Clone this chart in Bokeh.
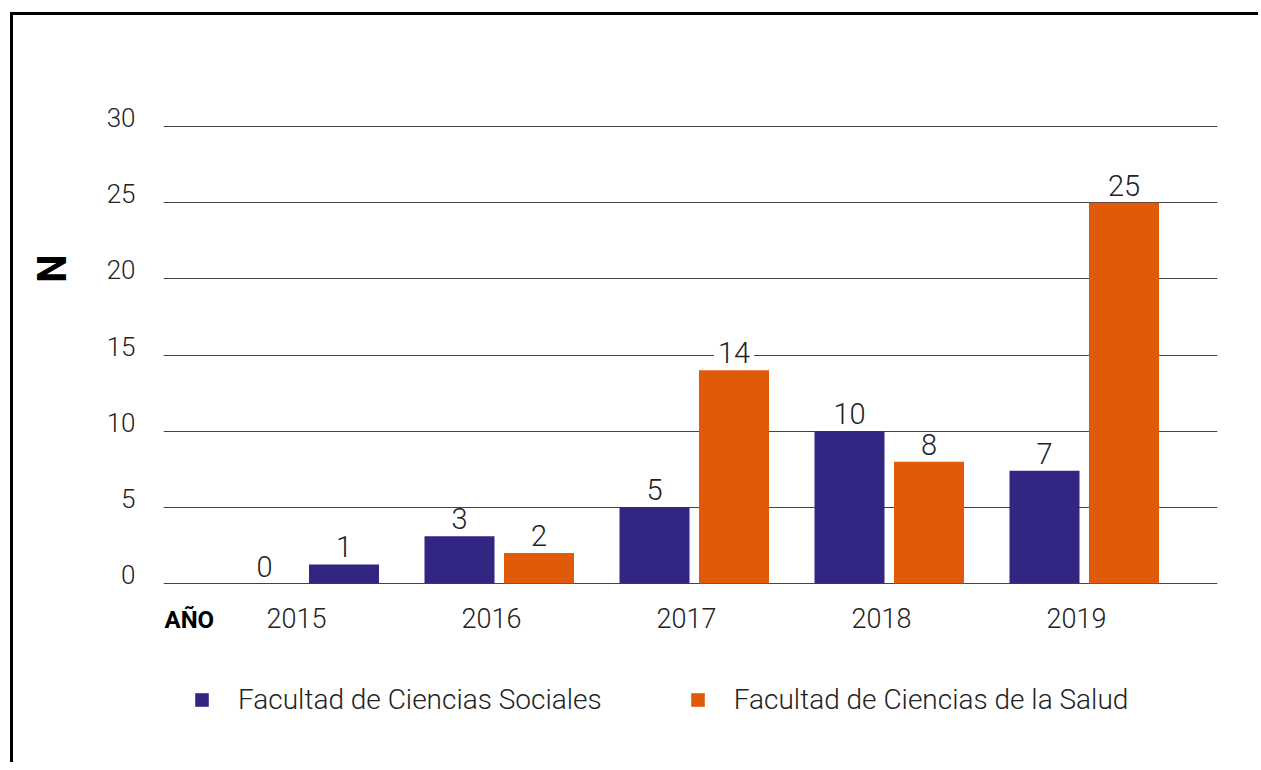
import math
from bokeh.plotting import figure
from bokeh.models import (ColumnDataSource, Range1d, LinearAxis, FixedTicker, LabelSet,
                          Label, Legend, LegendItem)
from bokeh.core.properties import value
from bokeh.embed import file_html
from bokeh.resources import INLINE

# ---------------- data ----------------
years = ["2015", "2016", "2017", "2018", "2019"]
sociales = [0, 3.1, 5, 10, 7.4]      # bar heights as drawn
salud = [1.25, 2, 14, 8, 25]
y_ticks = [0, 5, 10, 15, 20, 25, 30]
series_names = ["Facultad de Ciencias Sociales", "Facultad de Ciencias de la Salud"]
y_title = "N"
x_title = "AÑO"

# ---------------- style ----------------
PURPLE = "#312783"
ORANGE = "#E05A0A"
TEXT = "#222222"
GRID = "#444444"
FONT = "Roboto Light, Roboto"
BOLD = "Roboto"
# in the reference the 2015 bar of the second series is drawn purple
salud_colors = [PURPLE, ORANGE, ORANGE, ORANGE, ORANGE]

W, H = 1248, 750
FL, FR = 150, 1204          # frame left / right (canvas px)
FT, FB = 0, H               # frame top / bottom (canvas px)
Y0, Y30 = 568, 111          # canvas px of values 0 and 30
S = (Y0 - Y30) / 30.0       # px per unit
STEP = 195.0                # px per year
TICK0 = 283                 # canvas px of first year centre

x_start = -(TICK0 - FL) / STEP
x_end = x_start + (FR - FL) / STEP
y_start = -(FB - Y0) / S
y_end = 30 + (Y30 - FT) / S

OFF1 = -32 / STEP
OFF2 = 47.5 / STEP
BW = 70 / STEP

p = figure(width=W, height=H, output_backend="svg", toolbar_location=None,
           x_range=Range1d(x_start, x_end), y_range=Range1d(y_start, y_end),
           x_axis_location=None, y_axis_location=None,
           min_border_left=FL, min_border_right=W - FR,
           min_border_top=FT, min_border_bottom=H - FB)
p.outline_line_color = None
p.background_fill_color = "white"
p.border_fill_color = "white"
# page frame: left and top rules
p.styles = {"margin-left": "10px", "margin-top": "12px",
            "border-left": "3px solid black", "border-top": "3px solid black"}

idx = list(range(len(years)))


def bg_alpha(vals):
    out = []
    for v in vals:
        c = v + 1.1
        out.append(1.0 if abs(c - 5 * round(c / 5)) < 0.5 else 0.0)
    return out


src1 = ColumnDataSource(dict(x=[i + OFF1 for i in idx], top=sociales,
                             lab=[f"{v:.0f}" for v in sociales], bga=bg_alpha(sociales),
                             color=[PURPLE] * len(idx)))
src2 = ColumnDataSource(dict(x=[i + OFF2 for i in idx], top=salud,
                             lab=[f"{v:.0f}" for v in salud], bga=bg_alpha(salud),
                             color=salud_colors))
srcy = ColumnDataSource(dict(x=idx, y=[0] * len(idx), lab=years))

r1 = p.vbar(x="x", top="top", bottom=0, width=BW, source=src1,
            fill_color="color", line_color=None)
r2 = p.vbar(x="x", top="top", bottom=0, width=BW, source=src2,
            fill_color="color", line_color=None)

for src in (src1, src2):
    p.add_layout(LabelSet(x="x", y="top", text="lab", source=src, y_offset=7,
                          text_align="center", text_baseline="alphabetic",
                          text_font=value(FONT), text_font_size="29px", text_color=TEXT,
                          background_fill_color="white", background_fill_alpha="bga",
                          border_line_color="white", border_line_alpha="bga",
                          border_line_width=8))

# year labels along the category axis
p.add_layout(LabelSet(x="x", y="y", text="lab", source=srcy, y_offset=-44,
                      text_align="center", text_baseline="alphabetic",
                      text_font=value(FONT), text_font_size="27px", text_color=TEXT))
p.add_layout(Label(x=x_start, y=0, x_offset=1, y_offset=-36, text=x_title,
                   text_align="left", text_baseline="alphabetic",
                   text_font=BOLD, text_font_style="bold", text_font_size="24px",
                   text_color="black"))

# grid
p.ygrid.ticker = FixedTicker(ticks=y_ticks)
p.ygrid.grid_line_color = GRID
p.ygrid.grid_line_width = 1
p.xgrid.visible = False

# y axis, labels raised above their grid lines
d = 9 / S
p.extra_y_ranges = {"lab": Range1d(y_start - d, y_end - d),
                    "ttl": Range1d(0, (FB - FT) / (FB - 253.0))}
ax = LinearAxis(y_range_name="lab", ticker=FixedTicker(ticks=y_ticks))
ax.axis_line_color = None
ax.major_tick_line_color = None
ax.minor_tick_line_color = None
ax.major_tick_out = 0
ax.major_tick_in = 0
ax.major_label_standoff = 28
ax.major_label_text_font = FONT
ax.major_label_text_font_size = "26px"
ax.major_label_text_color = TEXT
p.add_layout(ax, "left")

# "N" title as a one-tick axis further left
tx = LinearAxis(y_range_name="ttl", ticker=FixedTicker(ticks=[1]))
tx.major_label_overrides = {1: y_title}
tx.major_label_orientation = "vertical"
tx.axis_line_color = None
tx.major_tick_line_color = None
tx.minor_tick_line_color = None
tx.major_tick_out = 0
tx.major_tick_in = 0
tx.major_label_standoff = 28
tx.major_label_text_font = BOLD
tx.major_label_text_font_style = "bold"
tx.major_label_text_font_size = "40px"
tx.major_label_text_color = "black"
p.add_layout(tx, "left")

# legend
legend = Legend(items=[LegendItem(label=series_names[0], renderers=[r1], index=1),
                       LegendItem(label=series_names[1], renderers=[r2], index=1)],
                orientation="horizontal", location=(30, 49),
                glyph_width=17, glyph_height=17, label_standoff=28, spacing=87,
                label_height=30, padding=0, margin=0,
                border_line_alpha=0, background_fill_alpha=0,
                label_text_font=FONT, label_text_font_size="28px",
                label_text_color=TEXT)
p.add_layout(legend)

open("out.html", "w").write(file_html(p, INLINE))
